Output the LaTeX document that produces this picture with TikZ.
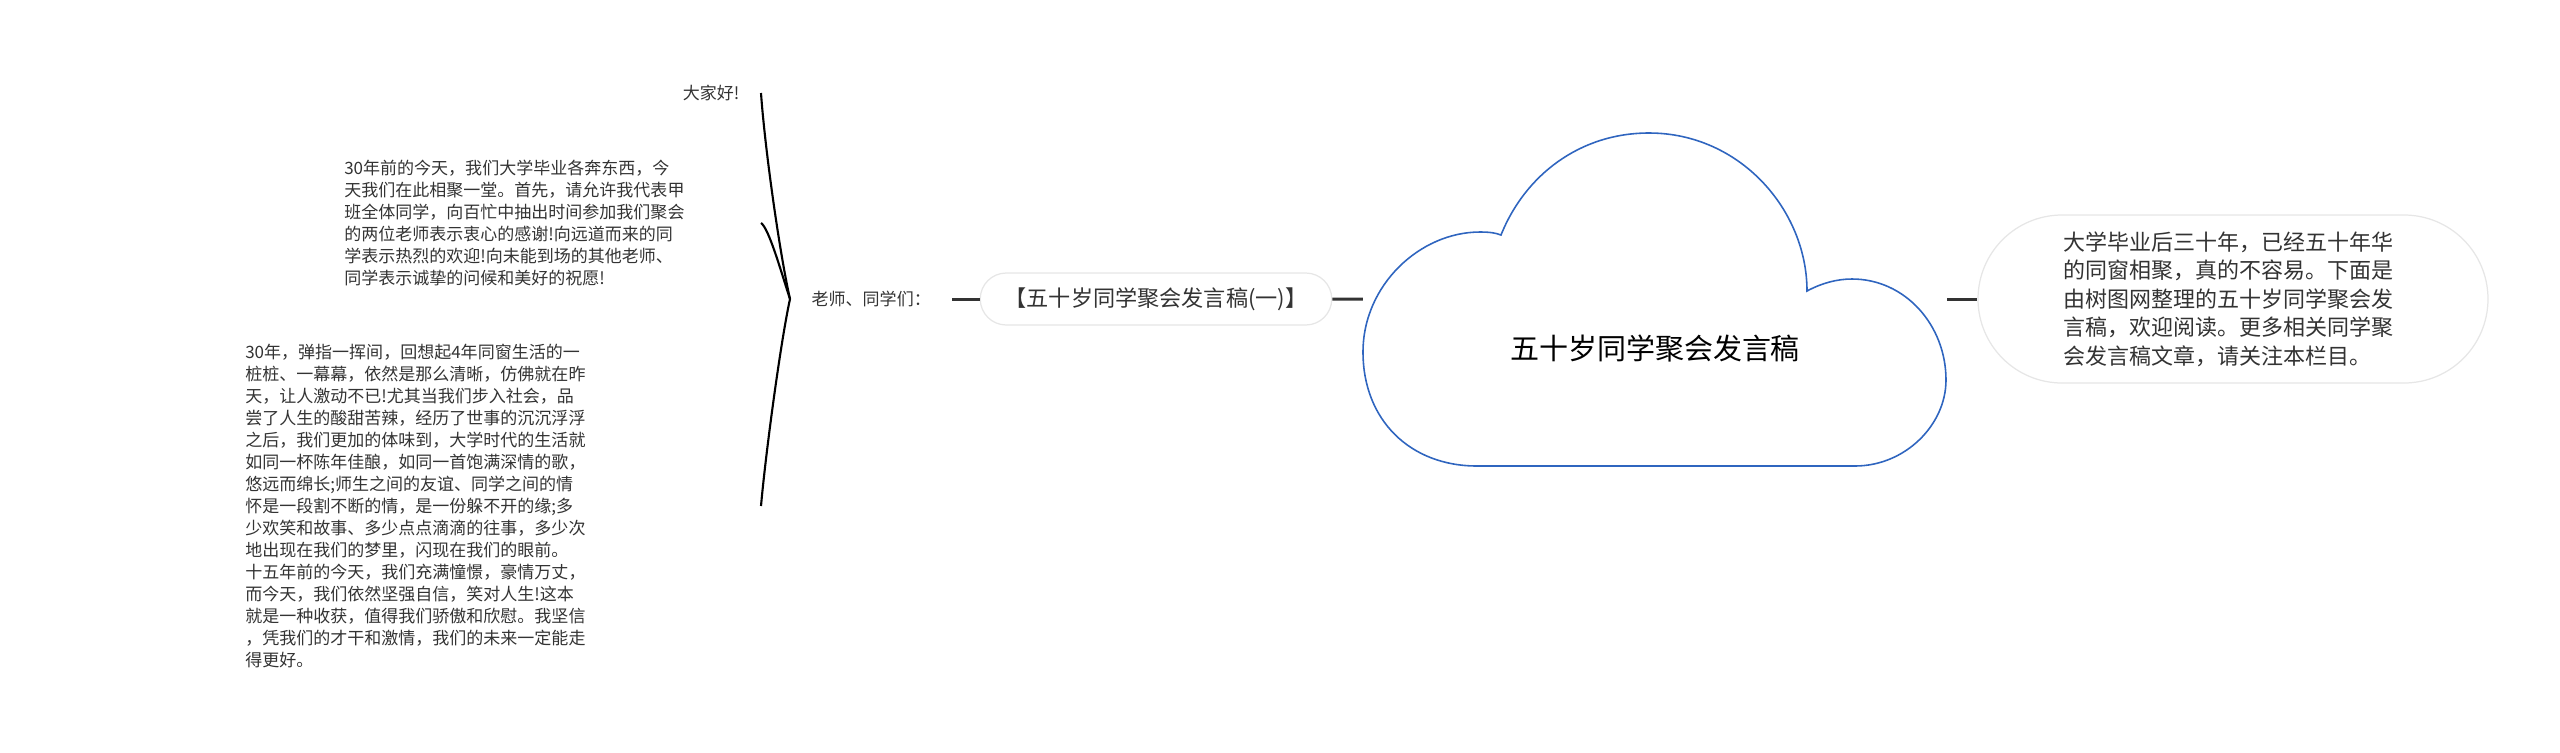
\documentclass[tikz,border=0pt]{standalone}
\usepackage{fontspec}
\newfontfamily\cjk{Noto Sans CJK SC}
\usepackage{tikz}
\usetikzlibrary{calc,shapes.misc,positioning}
\definecolor{inkgray}{HTML}{333333}
\definecolor{lineblue}{HTML}{2F65BF}
\definecolor{pillgray}{HTML}{E6E6E6}

\begin{document}
\begin{tikzpicture}[x=0.1mm, y=-0.1mm,
  leaf/.style={font=\cjk\fontsize{4.84pt}{6.26pt}\selectfont, text=inkgray, inner sep=0pt},
  para/.style={leaf, anchor=east, align=left},
  sub/.style={draw=pillgray, line width=0.35pt, rounded rectangle, fill=white, text=inkgray},
  topic/.style={minimum width=58.3mm, inner sep=0pt, text=black,
                font=\cjk\fontsize{8.25pt}{10pt}\selectfont},
  link/.style={draw=inkgray, line width=0.85pt},
  brace/.style={draw=black, line width=0.6pt},
]
\useasboundingbox (0,0) rectangle (2560,752);

% 云朵
\draw[draw=lineblue, line width=0.45pt, fill=white]
  (1477,466) .. controls (1410,466) and (1363,420) .. (1363,352)
  .. controls (1363,285) and (1420,232) .. (1480,232)
  .. controls (1490,232) and (1496,233) .. (1501,235)
  .. controls (1525,175) and (1580,133) .. (1649,133)
  .. controls (1740,133) and (1807,210) .. (1807,291)
  .. controls (1822,283) and (1837,279) .. (1852,279)
  .. controls (1905,279) and (1946,325) .. (1946,380)
  .. controls (1946,425) and (1905,466) .. (1855,466)
  -- cycle;
\node[topic] (topic) at (1655,348) {五十岁同学聚会发言稿};

% 中间与右侧
\node[sub, minimum width=37.5mm, minimum height=5.2mm,
      font=\cjk\fontsize{6.3pt}{7.5pt}\selectfont] (sub1) at (1156,299) {【五十岁同学聚会发言稿(一)】};
\node[sub, minimum width=51mm, minimum height=16.8mm, inner xsep=0pt, text width=34mm, align=left,
      font=\cjk\fontsize{6.26pt}{8.11pt}\selectfont] (note) at (2233,299) {大学毕业后三十年，已经五十年华\\
的同窗相聚，真的不容易。下面是\\
由树图网整理的五十岁同学聚会发\\
言稿，欢迎阅读。更多相关同学聚\\
会发言稿文章，请关注本栏目。};

% 左侧文字
\node[leaf, anchor=west, inner xsep=2.1mm] (lao) at (790,299) {老师、同学们：};
\node[leaf, anchor=east, inner xsep=2.1mm] (hello) at (761,93) {大家好!};
\node[para, text width=41.6mm] (para1) at (761,223) {30年前的今天，我们大学毕业各奔东西，今\\
天我们在此相聚一堂。首先，请允许我代表甲\\
班全体同学，向百忙中抽出时间参加我们聚会\\
的两位老师表示衷心的感谢!向远道而来的同\\
学表示热烈的欢迎!向未能到场的其他老师、\\
同学表示诚挚的问候和美好的祝愿!};
\node[para, text width=51.5mm] (para2) at (761,506) {30年，弹指一挥间，回想起4年同窗生活的一\\
桩桩、一幕幕，依然是那么清晰，仿佛就在昨\\
天，让人激动不已!尤其当我们步入社会，品\\
尝了人生的酸甜苦辣，经历了世事的沉沉浮浮\\
之后，我们更加的体味到，大学时代的生活就\\
如同一杯陈年佳酿，如同一首饱满深情的歌，\\
悠远而绵长;师生之间的友谊、同学之间的情\\
怀是一段割不断的情，是一份躲不开的缘;多\\
少欢笑和故事、多少点点滴滴的往事，多少次\\
地出现在我们的梦里，闪现在我们的眼前。\\
十五年前的今天，我们充满憧憬，豪情万丈，\\
而今天，我们依然坚强自信，笑对人生!这本\\
就是一种收获，值得我们骄傲和欣慰。我坚信\\
，凭我们的才干和激情，我们的未来一定能走\\
得更好。};

% 连线
\draw[link] (lao) -- (sub1);
\draw[link] (sub1) -- (sub1 -| topic.west);
\draw[link] (note -| topic.east) -- (note);
\draw[brace] (lao.west) .. controls +(-10,-44) and +(4,57) .. (hello.east);
\draw[brace] (lao.west) .. controls +(-8,-24) and +(8,5) .. (para1.east);
\draw[brace] (lao.west) .. controls +(-9,41) and +(5,-56) .. (para2.east);

\end{tikzpicture}
\end{document}
